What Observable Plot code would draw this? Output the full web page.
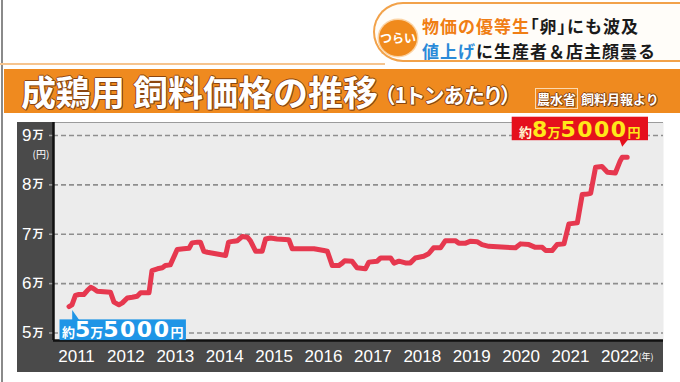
<!DOCTYPE html>
<html><head><meta charset="utf-8">
<script src="https://cdn.jsdelivr.net/npm/d3@7"></script>
<script src="https://cdn.jsdelivr.net/npm/@observablehq/plot@0.6"></script>
<style>
html,body{margin:0;padding:0;}
body{width:680px;height:382px;overflow:hidden;background:#fff;position:relative;font-family:"Noto Sans CJK JP","Noto Sans",sans-serif;}
.abs{position:absolute;}
#edge{left:1px;top:0;width:2px;height:382px;background:#8a8a8a;}
#banner{left:373px;top:2px;width:340px;height:56px;border:2px solid #f2a24a;border-right:none;border-radius:30px 0 0 30px;background:#fffdf9;}
#circle{left:379px;top:20px;width:38px;height:36px;border-radius:50%;background:#f08a1c;color:#fff;font-size:12px;font-weight:700;text-align:center;line-height:36px;box-shadow:0 0 0 1.5px #fbd3a4;}
.bl{left:422px;font-size:17px;font-weight:700;line-height:25px;white-space:nowrap;color:#1a1a1a;letter-spacing:1px;}
.palt{font-feature-settings:"palt" 1;}
#topline{left:0;top:63px;width:385px;height:2px;background:#f6c48e;}
#band{left:4px;top:69px;width:676px;height:44px;background:#ef8a1f;}
.tt{color:#fff;font-weight:700;white-space:nowrap;text-shadow:1px 0 0 #8a4510,-1px 0 0 #8a4510,0 1px 0 #8a4510,0 -1px 0 #8a4510,1px 1px 0 #8a4510;}
#panel{left:17px;top:122px;width:646px;height:250px;background:#4a4a4a;}
#chart{left:0;top:113px;}
</style></head><body>
<div class="abs" id="edge"></div>
<div class="abs" id="topline"></div>
<div class="abs" id="banner"></div>
<div class="abs" id="circle">つらい</div>
<div class="abs bl" style="top:13px"><span style="color:#f07e14">物価の優等生</span><span class="palt">「卵」</span>にも波及</div>
<div class="abs bl" style="top:38px"><span style="color:#2a8ad8">値上げ</span>に生産者＆店主顔曇る</div>
<div class="abs" id="band"></div>
<div class="abs tt" style="left:21px;top:70px;font-size:35px;line-height:42px;letter-spacing:-0.5px">成鶏用</div>
<div class="abs tt" style="left:133px;top:70px;font-size:35px;line-height:42px;letter-spacing:0px">飼料価格の推移</div>
<div class="abs tt palt" style="left:384px;top:78px;font-size:21px;line-height:32px;letter-spacing:0px">（1トンあたり）</div>
<div class="abs tt" style="left:535px;top:90px;font-size:13px;line-height:18px;"><span style="border:1px solid #fbd9b0;padding:0 1px">農水省</span> 飼料月報より</div>
<div class="abs" id="panel"></div>
<div class="abs" id="chart"></div>
<script>
// Data (fractional year, yen per tonne)
const dates = [2011.01,2011.07,2011.14,2011.21,2011.31,2011.38,2011.45,2011.51,2011.58,2011.85,2011.92,2012.02,2012.09,2012.19,2012.29,2012.39,2012.46,2012.63,2012.69,2012.80,2012.90,2012.96,2013.06,2013.20,2013.33,2013.44,2013.50,2013.61,2013.67,2013.74,2013.81,2014.18,2014.24,2014.35,2014.42,2014.52,2014.62,2014.68,2014.79,2014.92,2014.99,2015.09,2015.22,2015.46,2015.53,2015.63,2015.97,2016.17,2016.24,2016.34,2016.47,2016.54,2016.59,2016.74,2016.84,2017.01,2017.08,2017.25,2017.32,2017.52,2017.59,2017.69,2017.82,2017.92,2018.02,2018.19,2018.29,2018.39,2018.53,2018.63,2018.83,2018.90,2019.04,2019.14,2019.27,2019.37,2019.51,2020.05,2020.15,2020.32,2020.45,2020.59,2020.66,2020.79,2020.89,2021.03,2021.13,2021.30,2021.40,2021.50,2021.57,2021.67,2021.80,2021.91,2022.07,2022.17,2022.21,2022.31];
const prices = [55350,55700,57600,57800,57800,58600,59250,58950,58450,58250,56250,55700,56100,57100,57250,57450,58150,58150,62650,63000,63200,63650,63800,66900,67050,67150,68250,68400,68400,66550,66350,65700,68400,68600,68700,69550,69400,68700,66550,66550,69050,69250,69050,68900,67050,67050,67050,66700,66550,63650,63650,64150,64650,64550,63200,63000,64350,64550,65200,65200,64150,64550,64200,64200,65200,65550,66050,67250,67250,68700,68700,68200,68200,68600,68500,67900,67550,67250,68050,67900,67350,67350,66700,66700,67900,68050,72100,72300,78050,78150,78300,83550,83700,82550,82400,84900,85600,85600];
const years = [2011,2012,2013,2014,2015,2016,2017,2018,2019,2020,2021,2022];
const yTicks = [50000,60000,70000,80000,90000];
const yUnit = "(円)";
const xUnit = "(年)";
const lowLabel = ["約","5","万","5000","円"];
const highLabel = ["約","8","万","5000","円"];

const data = dates.map((t, i) => ({t, v: prices[i]}));

function callout(pointIndex, box, pointer, fill, parts, colors) {
  return (index, scales) => {
    const px = scales.x(dates[pointIndex]);
    const py = scales.y(prices[pointIndex]);
    const g = d3.create("svg:g").attr("transform", `translate(${px},${py})`);
    g.append("rect").attr("x", box[0]).attr("y", box[1]).attr("width", box[2]).attr("height", box[3]).attr("fill", fill);
    g.append("path").attr("d", pointer).attr("fill", fill);
    const t = g.append("text")
      .attr("x", box[0] + box[2] / 2)
      .attr("y", box[1] + box[3] - 3.5)
      .attr("text-anchor", "middle")
      .attr("font-weight", "bold");
    const sizes = [13, 22, 13, 22, 13];
    const fams = ['"Noto Sans CJK JP"', '"DejaVu Sans"', '"Noto Sans CJK JP"', '"DejaVu Sans"', '"Noto Sans CJK JP"'];
    const ls = [0, 0, 0, 1.5, 0];
    parts.forEach((p, i) => {
      t.append("tspan").text(p)
        .attr("font-size", sizes[i])
        .attr("font-family", fams[i])
        .attr("letter-spacing", ls[i])
        .attr("fill", colors[i]);
    });
    return g.node();
  };
}

const plot = Plot.plot({
  width: 680,
  height: 265,
  marginTop: 9,
  marginBottom: 38,
  marginLeft: 53,
  marginRight: 17,
  style: {background: "transparent", color: "white", overflow: "visible"},
  x: {domain: [2010.696, 2023.045], axis: null},
  y: {domain: [48480, 92630], axis: null},
  marks: [
    Plot.frame({fill: "#ececec", stroke: null}),
    Plot.gridY(yTicks, {stroke: "#8e8e8e", strokeOpacity: 1, strokeWidth: 1.6, strokeDasharray: "5,3"}),
    Plot.axisY(yTicks, {label: null, tickSize: 0, tickPadding: 22, tickFormat: d => d / 10000, fontSize: 17, fontFamily: "Liberation Sans, Arial, sans-serif", fill: "white"}),
    Plot.axisY(yTicks, {label: null, tickSize: 4, stroke: "#a0a0a0", strokeWidth: 1.5, tickPadding: 6, tickFormat: () => "万", fontSize: 11, fontFamily: "Noto Sans CJK JP", fontWeight: "bold", fill: "white"}),
    Plot.text([yUnit], {frameAnchor: "top-left", text: d => d, dx: -21, dy: 28, fontSize: 10, fill: "white", fontFamily: "Noto Sans CJK JP"}),
    Plot.axisX(years, {label: null, tickSize: 0, tickPadding: 9, tickFormat: d => String(d), fontSize: 17, dx: 8, fontFamily: "Liberation Sans Narrow, Arial Narrow, sans-serif", fill: "white"}),
    Plot.text([xUnit], {frameAnchor: "bottom-right", text: d => d, dx: -10, dy: 19, fontSize: 9, fill: "white", fontFamily: "Noto Sans CJK JP"}),
    Plot.ruleX([2010.696], {stroke: "#111", strokeWidth: 2.5}),
    Plot.ruleY([48480], {stroke: "#111", strokeWidth: 2.5}),
    Plot.line(data, {x: "t", y: "v", stroke: "#e6384f", strokeWidth: 5, strokeLinejoin: "round", strokeLinecap: "round"}),
    callout(0, [-9, 13.3, 126.4, 20.7], "M3.7,4 L3.7,13.8 L10.7,13.8 Z", "#1f95e6", lowLabel, ["white","white","white","white","white"]),
    callout(dates.length - 1, [-115, -40, 136.3, 23.5], "M-7,-16.8 L1,-16.8 L-4.5,-10 Z", "#e5101c", highLabel, ["#fff6d0","#ffe81a","#ffe81a","#ffe81a","#ffe81a"])
  ]
});
document.getElementById("chart").appendChild(plot);
</script>
</body></html>
